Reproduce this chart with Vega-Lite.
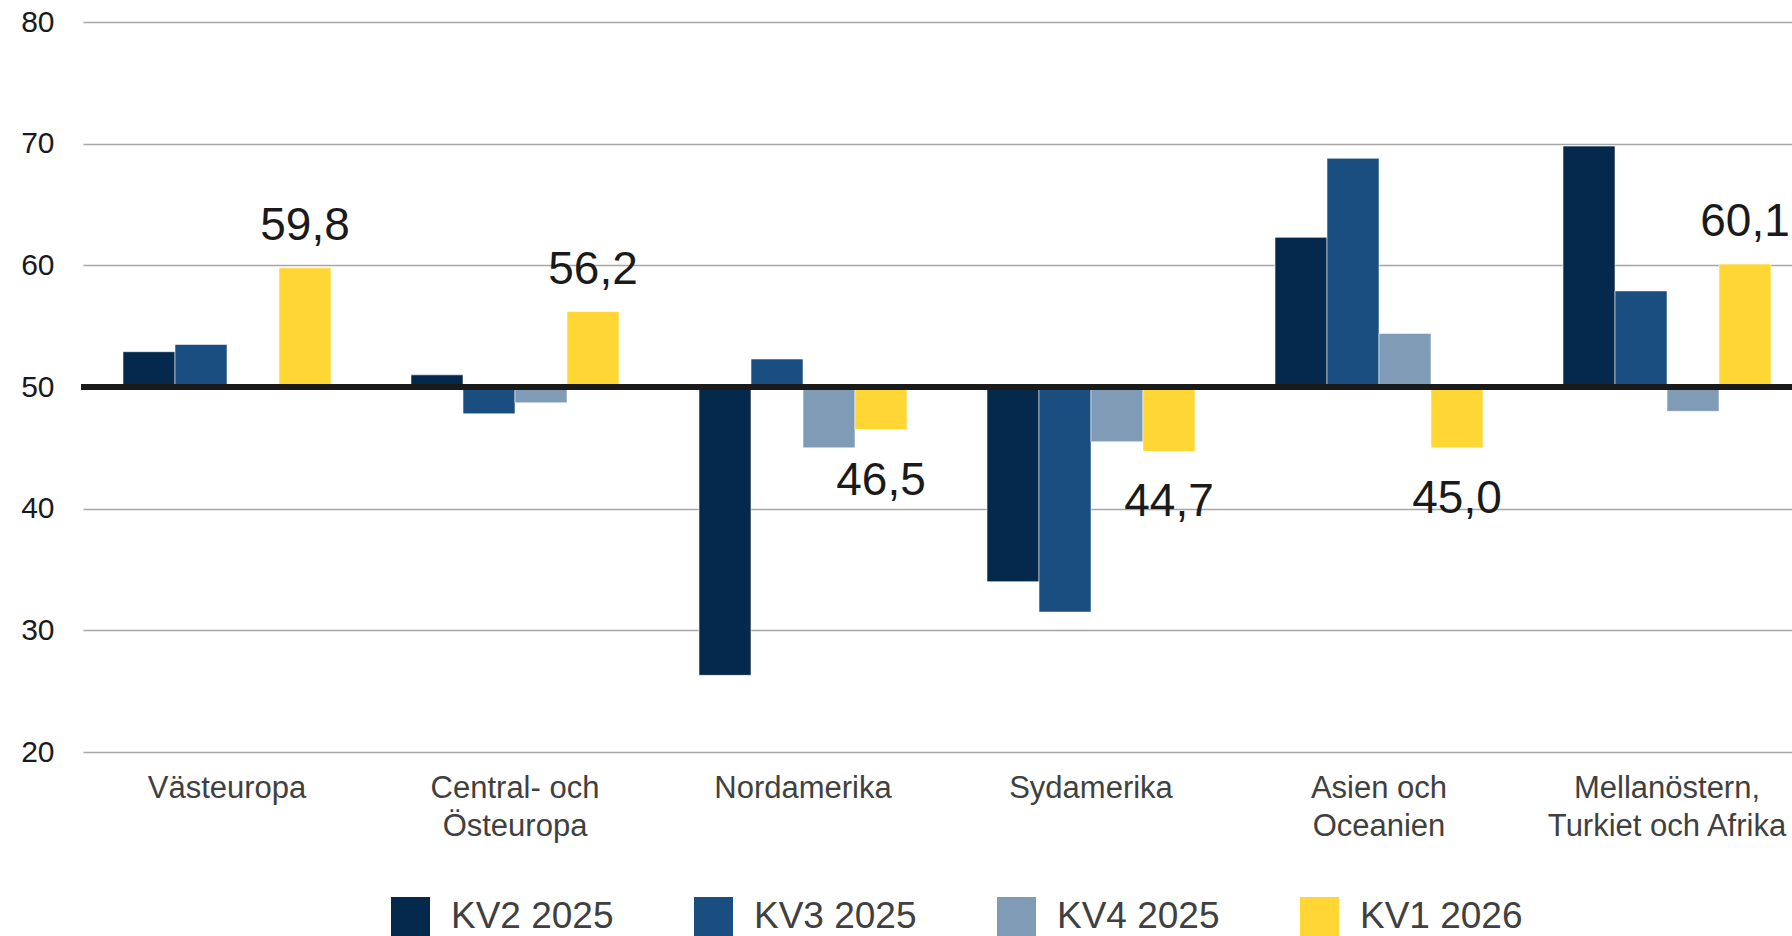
{
  "$schema": "https://vega.github.io/schema/vega-lite/v6.json",
  "autosize": {"type": "none"},
  "padding": {"left": 83, "top": 22, "right": 0, "bottom": 184},
  "width": 1709,
  "height": 730,
  "background": "white",
  "config": {
    "view": {"stroke": null},
    "font": "Liberation Sans",
    "locale": {"number": {"decimal": ",", "thousands": " ", "grouping": [3], "currency": ["", " kr"]}}
  },
  "data": {
    "values": [
      {"region": "Västeuropa", "quarter": "KV2 2025", "value": 52.9},
      {"region": "Västeuropa", "quarter": "KV3 2025", "value": 53.5},
      {"region": "Västeuropa", "quarter": "KV4 2025", "value": 50.0},
      {"region": "Västeuropa", "quarter": "KV1 2026", "value": 59.8},
      {"region": "Central- och Östeuropa", "quarter": "KV2 2025", "value": 51.0},
      {"region": "Central- och Östeuropa", "quarter": "KV3 2025", "value": 47.8},
      {"region": "Central- och Östeuropa", "quarter": "KV4 2025", "value": 48.7},
      {"region": "Central- och Östeuropa", "quarter": "KV1 2026", "value": 56.2},
      {"region": "Nordamerika", "quarter": "KV2 2025", "value": 26.3},
      {"region": "Nordamerika", "quarter": "KV3 2025", "value": 52.3},
      {"region": "Nordamerika", "quarter": "KV4 2025", "value": 45.0},
      {"region": "Nordamerika", "quarter": "KV1 2026", "value": 46.5},
      {"region": "Sydamerika", "quarter": "KV2 2025", "value": 34.0},
      {"region": "Sydamerika", "quarter": "KV3 2025", "value": 31.5},
      {"region": "Sydamerika", "quarter": "KV4 2025", "value": 45.5},
      {"region": "Sydamerika", "quarter": "KV1 2026", "value": 44.7},
      {"region": "Asien och Oceanien", "quarter": "KV2 2025", "value": 62.3},
      {"region": "Asien och Oceanien", "quarter": "KV3 2025", "value": 68.8},
      {"region": "Asien och Oceanien", "quarter": "KV4 2025", "value": 54.4},
      {"region": "Asien och Oceanien", "quarter": "KV1 2026", "value": 45.0},
      {"region": "Mellanöstern, Turkiet och Afrika", "quarter": "KV2 2025", "value": 69.8},
      {"region": "Mellanöstern, Turkiet och Afrika", "quarter": "KV3 2025", "value": 57.9},
      {"region": "Mellanöstern, Turkiet och Afrika", "quarter": "KV4 2025", "value": 48.0},
      {"region": "Mellanöstern, Turkiet och Afrika", "quarter": "KV1 2026", "value": 60.1}
    ]
  },
  "encoding": {
    "x": {
      "field": "region",
      "type": "nominal",
      "sort": null,
      "scale": {"range": [0, 1728], "paddingInner": 0.2778, "paddingOuter": 0.1389},
      "axis": {
        "title": null,
        "ticks": false,
        "domain": false,
        "labelAngle": 0,
        "labelFontSize": 31,
        "labelColor": "#404040",
        "labelPadding": 21,
        "labelLineHeight": 38,
        "labelLimit": 500,
        "labelExpr": "datum.value == 'Central- och Östeuropa' ? ['Central- och', 'Östeuropa'] : datum.value == 'Asien och Oceanien' ? ['Asien och', 'Oceanien'] : datum.value == 'Mellanöstern, Turkiet och Afrika' ? ['Mellanöstern,', 'Turkiet och Afrika'] : datum.value"
      }
    },
    "xOffset": {
      "field": "quarter",
      "type": "nominal",
      "scale": {"domain": ["KV2 2025", "KV3 2025", "KV4 2025", "KV1 2026"], "paddingInner": 0, "paddingOuter": 0}
    }
  },
  "layer": [
    {
      "mark": {"type": "bar", "stroke": "#ffffff", "strokeWidth": 0.8, "strokeOpacity": 0.7},
      "encoding": {
        "y": {
          "field": "value",
          "type": "quantitative",
          "scale": {"domain": [20, 80], "zero": false, "nice": false},
          "axis": {
            "title": null,
            "values": [20, 30, 40, 50, 60, 70, 80],
            "ticks": false,
            "domain": false,
            "labelFontSize": 30,
            "labelColor": "#1a1a1a",
            "labelPadding": 29,
            "gridColor": "#a6a6a6",
            "gridWidth": 1.3
          }
        },
        "y2": {"datum": 50},
        "color": {
          "field": "quarter",
          "type": "nominal",
          "scale": {
            "domain": ["KV2 2025", "KV3 2025", "KV4 2025", "KV1 2026"],
            "range": ["#05294d", "#1a4d80", "#7f9bb5", "#ffd633"]
          },
          "legend": {
            "title": null,
            "orient": "none",
            "legendX": 308,
            "legendY": 875,
            "direction": "horizontal",
            "columns": 4,
            "columnPadding": 80,
            "padding": 0,
            "symbolType": "square",
            "symbolSize": 1521,
            "symbolStrokeWidth": 0,
            "symbolOpacity": 1,
            "labelFontSize": 37,
            "labelOffset": 21,
            "labelColor": "#404040",
            "labelLimit": 400
          }
        }
      }
    },
    {
      "mark": {"type": "rule", "color": "#1a1a1a", "strokeWidth": 5},
      "encoding": {"y": {"datum": 50}, "x": {"value": -2}, "x2": {"value": 1709}, "xOffset": null}
    },
    {
      "transform": [{"filter": "datum.quarter == 'KV1 2026' && datum.value >= 50"}],
      "mark": {"type": "text", "fontSize": 46, "color": "#1a1a1a", "baseline": "alphabetic", "dy": -28},
      "encoding": {
        "y": {"field": "value", "type": "quantitative"},
        "text": {"field": "value", "type": "quantitative", "format": ".1f"}
      }
    },
    {
      "transform": [{"filter": "datum.quarter == 'KV1 2026' && datum.value < 50"}],
      "mark": {"type": "text", "fontSize": 46, "color": "#1a1a1a", "baseline": "alphabetic", "dy": 65},
      "encoding": {
        "y": {"field": "value", "type": "quantitative"},
        "text": {"field": "value", "type": "quantitative", "format": ".1f"}
      }
    }
  ]
}
